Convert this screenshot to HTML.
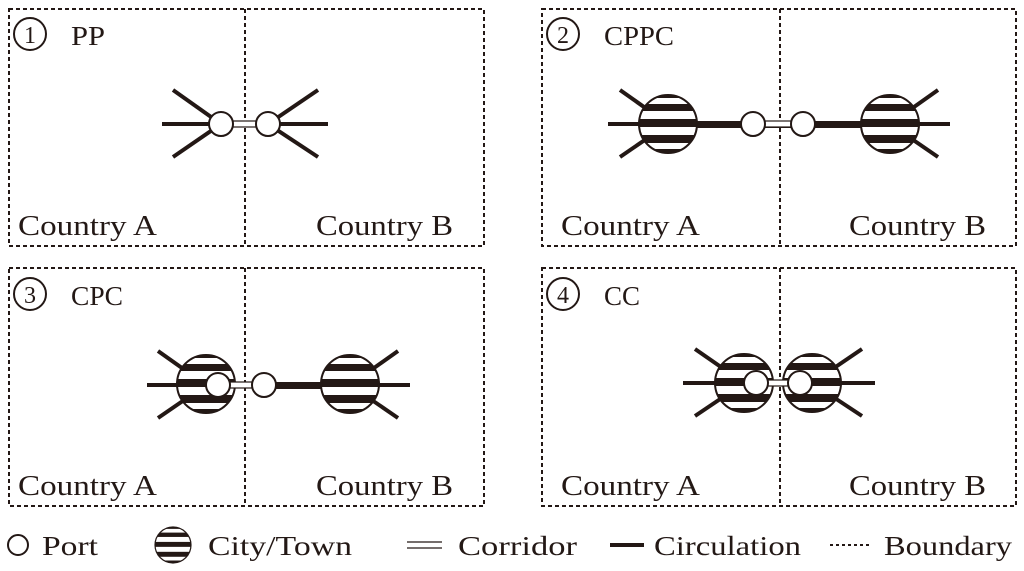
<!DOCTYPE html>
<html><head><meta charset="utf-8"><style>
html,body{margin:0;padding:0;background:#fff;}
svg{display:block;}
text{font-family:"Liberation Serif",serif;fill:#231815;}
</style></head><body>
<svg width="1024" height="571" viewBox="0 0 1024 571" xmlns="http://www.w3.org/2000/svg">
<defs>
<clipPath id="cc"><circle cx="0" cy="0" r="29"/></clipPath>
<g id="city">
 <circle cx="0" cy="0" r="29" fill="#fff"/>
 <g clip-path="url(#cc)" fill="#231815">
  <rect x="-30" y="-30" width="60" height="4"/>
  <rect x="-30" y="-20" width="60" height="7"/>
  <rect x="-30" y="-5" width="60" height="8"/>
  <rect x="-30" y="11" width="60" height="8"/>
  <rect x="-30" y="25" width="60" height="6"/>
 </g>
 <circle cx="0" cy="0" r="29" fill="none" stroke="#231815" stroke-width="2"/>
</g>
<g id="port"><circle cx="0" cy="0" r="12" fill="#fff" stroke="#231815" stroke-width="2"/></g>
</defs>
<g fill="none" stroke="#231815" stroke-width="2" stroke-dasharray="4,3">
 <rect x="9" y="9" width="475" height="237"/>
 <line x1="245" y1="9" x2="245" y2="246"/>
 <rect x="542" y="9" width="474" height="237"/>
 <line x1="780" y1="9" x2="780" y2="246"/>
 <rect x="9" y="268" width="475" height="238"/>
 <line x1="245" y1="268" x2="245" y2="506"/>
 <rect x="542" y="268" width="474" height="238"/>
 <line x1="780" y1="268" x2="780" y2="506"/>
</g>
<g font-size="27">
 <circle cx="30" cy="34" r="16" fill="none" stroke="#231815" stroke-width="2"/><text x="30" y="43" font-size="24" text-anchor="middle">1</text><text x="71" y="45" textLength="34" lengthAdjust="spacingAndGlyphs">PP</text>
 <circle cx="563" cy="34" r="16" fill="none" stroke="#231815" stroke-width="2"/><text x="563" y="43" font-size="24" text-anchor="middle">2</text><text x="604" y="45" textLength="70" lengthAdjust="spacingAndGlyphs">CPPC</text>
 <circle cx="30" cy="294" r="16" fill="none" stroke="#231815" stroke-width="2"/><text x="30" y="303" font-size="24" text-anchor="middle">3</text><text x="71" y="305" textLength="52" lengthAdjust="spacingAndGlyphs">CPC</text>
 <circle cx="563" cy="294" r="16" fill="none" stroke="#231815" stroke-width="2"/><text x="563" y="303" font-size="24" text-anchor="middle">4</text><text x="604" y="305" textLength="36" lengthAdjust="spacingAndGlyphs">CC</text>
 <g font-size="28">
 <text x="18" y="235" textLength="139" lengthAdjust="spacingAndGlyphs">Country A</text><text x="316" y="235" textLength="137" lengthAdjust="spacingAndGlyphs">Country B</text>
 <text x="561" y="235" textLength="139" lengthAdjust="spacingAndGlyphs">Country A</text><text x="849" y="235" textLength="137" lengthAdjust="spacingAndGlyphs">Country B</text>
 <text x="18" y="495" textLength="139" lengthAdjust="spacingAndGlyphs">Country A</text><text x="316" y="495" textLength="137" lengthAdjust="spacingAndGlyphs">Country B</text>
 <text x="561" y="495" textLength="139" lengthAdjust="spacingAndGlyphs">Country A</text><text x="849" y="495" textLength="137" lengthAdjust="spacingAndGlyphs">Country B</text>
 </g>
</g>
<g stroke="#231815" stroke-width="4" fill="none">
 <line x1="162" y1="124" x2="221" y2="124"/><line x1="173" y1="90" x2="221" y2="124"/><line x1="173" y1="157" x2="221" y2="124"/>
 <line x1="328" y1="124" x2="268" y2="124"/><line x1="318" y1="90" x2="268" y2="124"/><line x1="318" y1="157" x2="268" y2="124"/>
 <line x1="608" y1="124" x2="950" y2="124"/>
 <line x1="620" y1="90" x2="668" y2="124"/><line x1="620" y1="157" x2="668" y2="124"/>
 <line x1="938" y1="90" x2="890" y2="124"/><line x1="938" y1="157" x2="890" y2="124"/>
 <line x1="147" y1="385" x2="410" y2="385"/>
 <line x1="158" y1="351" x2="206" y2="385"/><line x1="158" y1="418" x2="206" y2="385"/>
 <line x1="398" y1="351" x2="350" y2="385"/><line x1="398" y1="418" x2="350" y2="385"/>
 <line x1="683" y1="383" x2="875" y2="383"/>
 <line x1="695" y1="349" x2="744" y2="383"/><line x1="695" y1="416" x2="744" y2="383"/>
 <line x1="862" y1="349" x2="812" y2="383"/><line x1="862" y1="416" x2="812" y2="383"/>
</g>
<rect x="231" y="121" width="28" height="6" fill="#fff" stroke="#231815" stroke-width="1.2"/>
<use href="#port" x="221" y="124"/><use href="#port" x="268" y="124"/>
<rect x="668" y="121" width="222" height="7" fill="#231815"/>
<rect x="763" y="121" width="32" height="6" fill="#fff" stroke="#231815" stroke-width="1.2"/>
<use href="#city" x="668" y="124"/><use href="#city" x="890" y="124"/>
<use href="#port" x="753" y="124"/><use href="#port" x="803" y="124"/>
<rect x="264" y="382" width="86" height="7" fill="#231815"/>
<use href="#city" x="206" y="384"/><use href="#city" x="350" y="384"/>
<rect x="228" y="382" width="27" height="6" fill="#fff" stroke="#231815" stroke-width="1.2"/>
<use href="#port" x="218" y="385"/><use href="#port" x="264" y="385"/>
<use href="#city" x="744" y="383"/><use href="#city" x="812" y="383"/>
<rect x="764" y="380" width="28" height="6" fill="#fff" stroke="#231815" stroke-width="1.2"/>
<use href="#port" x="756" y="383"/><use href="#port" x="800" y="383"/>
<circle cx="18" cy="545" r="10" fill="#fff" stroke="#231815" stroke-width="2"/>
<text x="42" y="555" font-size="27" textLength="56" lengthAdjust="spacingAndGlyphs">Port</text>
<g transform="translate(173,545) scale(0.62)"><use href="#city"/></g>
<text x="208" y="555" font-size="27" textLength="144" lengthAdjust="spacingAndGlyphs">City/Town</text>
<line x1="407" y1="542" x2="442" y2="542" stroke="#231815" stroke-width="1.2"/>
<line x1="407" y1="548" x2="442" y2="548" stroke="#231815" stroke-width="1.2"/>
<text x="458" y="555" font-size="27" textLength="119" lengthAdjust="spacingAndGlyphs">Corridor</text>
<line x1="610" y1="545" x2="644" y2="545" stroke="#231815" stroke-width="4"/>
<text x="654" y="555" font-size="27" textLength="147" lengthAdjust="spacingAndGlyphs">Circulation</text>
<line x1="830" y1="545" x2="871" y2="545" stroke="#231815" stroke-width="2" stroke-dasharray="3,3"/>
<text x="884" y="555" font-size="27" textLength="128" lengthAdjust="spacingAndGlyphs">Boundary</text>
</svg>
</body></html>
